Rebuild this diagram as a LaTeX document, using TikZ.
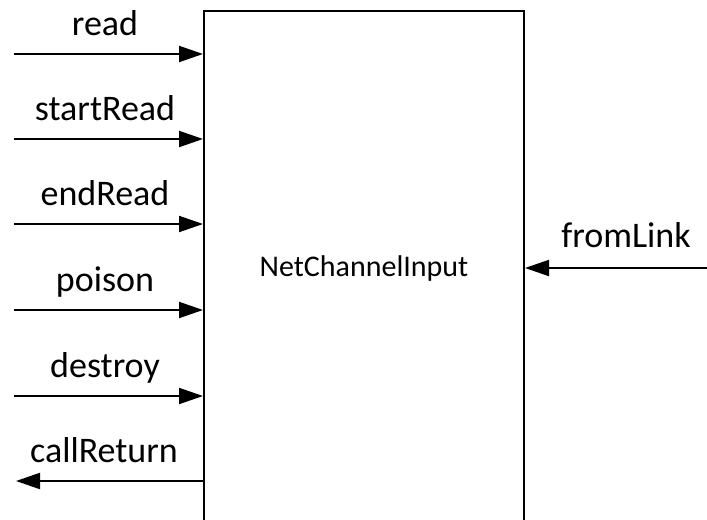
\documentclass[tikz,border=0pt]{standalone}
\usepackage{fontspec}
\setmainfont{Carlito}
\usetikzlibrary{positioning, arrows.meta}

\begin{document}
\begin{tikzpicture}[
  x=0.75pt, y=-0.75pt,
  every node/.style={font=\fontsize{27}{31}\selectfont},
  sig/.style={line width=1.5pt, -{Triangle[length=18pt, width=12pt]}},
  blockbox/.style={draw, line width=1.5pt, rectangle, minimum width=240pt, minimum height=405pt, inner sep=0pt}
]
\useasboundingbox (0,0) rectangle (707,519);
\clip (0,0) rectangle (707,519);

% Component box (bottom runs off the page)
\node[blockbox] (box) at (364,281) {};
\node[font=\fontsize{22.5}{26}\selectfont] (name) at (364,268) {NetChannelInput};

% Inputs on the left
\foreach \sig/\y in {read/54, startRead/139, endRead/224, poison/310, destroy/396} {
  \coordinate (\sig-in) at (14,\y);
  \draw[sig] (\sig-in) -- (\sig-in -| box.west);
  \node[anchor=base] (\sig-lbl) at (105,\y-19) {\sig};
}

% Output on the left
\coordinate (callReturn-out) at (16,481);
\draw[sig] (callReturn-out -| box.west) -- (callReturn-out);
\node[anchor=base] (callReturn-lbl) at (104,462) {callReturn};

% Input on the right
\coordinate (fromLink-in) at (707,268);
\draw[sig] (fromLink-in) -- (fromLink-in -| box.east);
\node[anchor=base] (fromLink-lbl) at (626,247) {fromLink};

\end{tikzpicture}
\end{document}
